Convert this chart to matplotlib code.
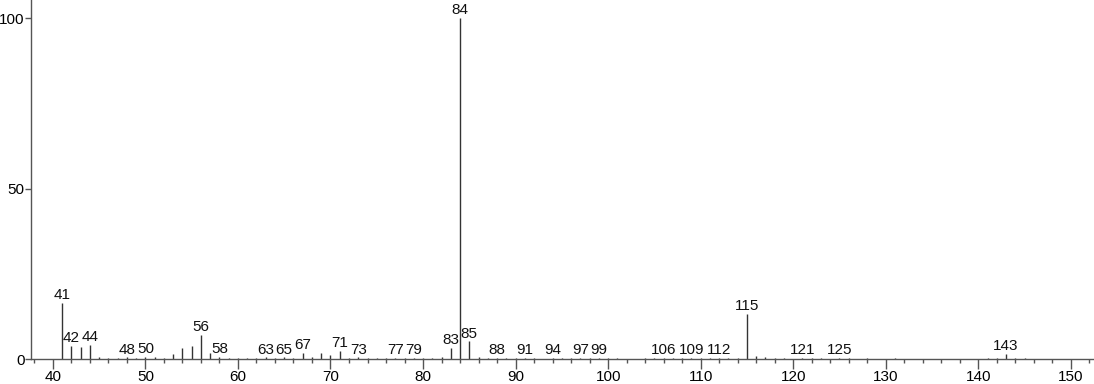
import matplotlib
matplotlib.use("Agg")
import matplotlib.pyplot as plt
from matplotlib.ticker import MultipleLocator

plt.rcParams["font.family"] = ["Liberation Sans", "DejaVu Sans"]

# m/z values and relative intensities
mz = [41, 42, 43, 44, 45, 46, 47, 48, 49, 50, 51, 52, 53, 54, 55, 56, 57, 58, 59,
      60, 61, 62, 63, 64, 65, 66, 67, 68, 69, 70, 71, 72, 73, 74, 75, 76, 77, 78,
      79, 80, 81, 82, 83, 84, 85, 86, 87, 88, 89, 90, 91, 92, 94, 95, 96, 97, 98,
      99, 100, 101, 104, 105, 106, 107, 108, 109, 110, 111, 112, 113, 114, 115,
      116, 117, 118, 119, 121, 122, 123, 125, 126, 128, 131, 141, 142, 143, 144,
      145]
intensity = [16.4, 3.9, 3.4, 4.1, 0.6, 0.3, 0.4, 0.5, 0.3, 0.6, 0.5, 0.3, 1.4, 3.1,
             3.7, 7.0, 1.7, 0.6, 0.3, 0.2, 0.2, 0.2, 0.5, 0.2, 0.5, 0.3, 1.9, 0.7,
             1.9, 1.3, 2.5, 0.3, 0.5, 0.2, 0.2, 0.2, 0.4, 0.2, 0.4, 0.2, 0.3, 0.7,
             3.2, 100.0, 5.2, 0.5, 0.2, 0.4, 0.2, 0.2, 0.4, 0.2, 0.4, 0.2, 0.2, 0.4,
             0.2, 0.4, 0.2, 0.2, 0.2, 0.2, 0.4, 0.2, 0.2, 0.4, 0.2, 0.2, 0.4, 0.2,
             0.3, 13.2, 0.9, 0.5, 0.2, 0.2, 0.4, 0.2, 0.2, 0.4, 0.2, 0.2, 0.3, 0.2,
             0.3, 1.5, 0.3, 0.2]

# peaks that carry an m/z label
labelled = [41, 42, 44, 48, 50, 56, 58, 63, 65, 67, 71, 73, 77, 79, 83, 84, 85,
            88, 91, 94, 97, 99, 106, 109, 112, 115, 121, 125, 143]

x_ticks = list(range(40, 151, 10))
y_ticks = [0, 50, 100]

fig = plt.figure(figsize=(10.94, 3.84), dpi=100)
ax = fig.add_axes([0.028, 0.065, 0.972, 0.935])

ax.vlines(mz, 0, intensity, color="#333333", linewidth=1.0)

peaks = dict(zip(mz, intensity))
for m in labelled:
    ax.annotate(str(m), (m, peaks[m]), xytext=(0, 0.5), textcoords="offset points",
                ha="center", va="bottom", fontsize=11, color="#111111")

ax.set_xlim(37.6, 152.5)
ax.set_ylim(0, 105.3)
ax.set_xticks(x_ticks)
ax.set_yticks(y_ticks)
ax.xaxis.set_minor_locator(MultipleLocator(2))

for side in ["top", "right"]:
    ax.spines[side].set_visible(False)
for side in ["left", "bottom"]:
    ax.spines[side].set_color("#555555")
    ax.spines[side].set_linewidth(1.0)

ax.tick_params(axis="x", which="major", length=7, width=1, color="#555555",
               labelsize=11, pad=1)
ax.tick_params(axis="x", which="minor", length=3, width=1, color="#555555")
ax.tick_params(axis="y", which="major", length=4, width=1, color="#555555",
               labelsize=11, pad=0.5)

fig.savefig("out.png", dpi=100)
